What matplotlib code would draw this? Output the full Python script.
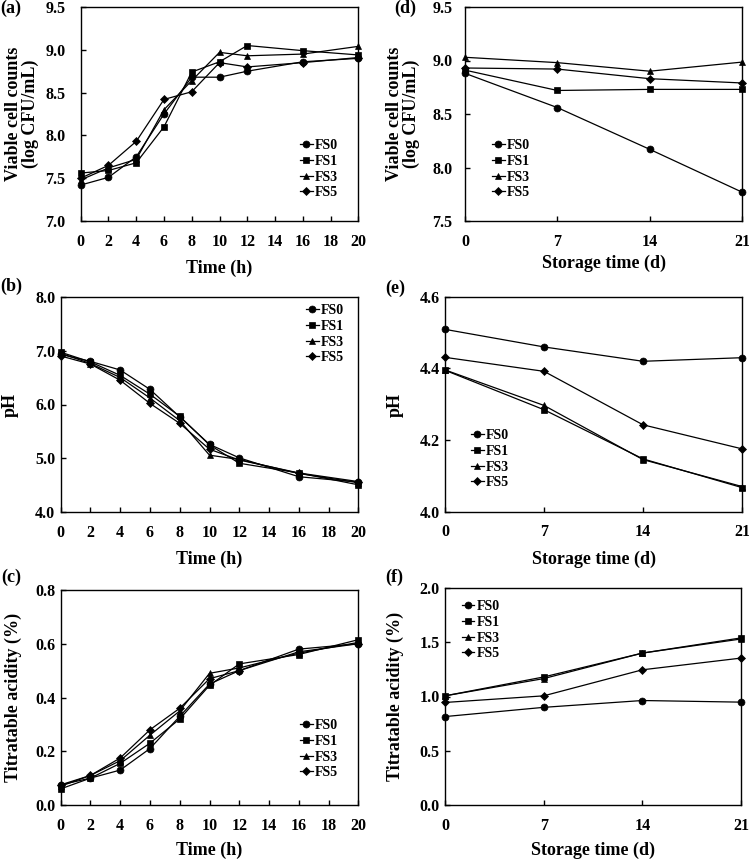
import matplotlib
matplotlib.use("Agg")
import matplotlib.pyplot as plt

plt.rcParams['font.family'] = ['Liberation Serif', 'DejaVu Serif']
plt.rcParams['font.weight'] = 'bold'

series = ['FS0', 'FS1', 'FS3', 'FS5']
markers = {'FS0': 'o', 'FS1': 's', 'FS3': '^', 'FS5': 'D'}
msizes = {'FS0': 5, 'FS1': 5, 'FS3': 5, 'FS5': 4}

# Fermentation time (h)
ferm_time = [0, 2, 4, 6, 8, 10, 12, 16, 20]
# Storage time (d)
stor_time = [0, 7, 14, 21]

# (a) viable cell counts during fermentation
a_FS0 = [7.42, 7.51, 7.75, 8.25, 8.68, 8.68, 8.75, 8.86, 8.90]
a_FS1 = [7.56, 7.59, 7.68, 8.10, 8.74, 8.86, 9.05, 8.99, 8.94]
a_FS3 = [7.48, 7.62, 7.72, 8.30, 8.64, 8.97, 8.93, 8.95, 9.04]
a_FS5 = [7.50, 7.65, 7.93, 8.42, 8.51, 8.85, 8.80, 8.85, 8.91]

# (b) pH during fermentation
b_FS0 = [6.93, 6.80, 6.64, 6.28, 5.77, 5.26, 5.01, 4.66, 4.56]
b_FS1 = [6.97, 6.79, 6.54, 6.19, 5.78, 5.25, 4.91, 4.73, 4.51]
b_FS3 = [6.95, 6.76, 6.50, 6.12, 5.70, 5.06, 4.98, 4.72, 4.55]
b_FS5 = [6.90, 6.75, 6.45, 6.02, 5.65, 5.17, 4.97, 4.73, 4.57]

# (c) titratable acidity during fermentation
c_FS0 = [0.075, 0.100, 0.130, 0.210, 0.330, 0.450, 0.500, 0.580, 0.600]
c_FS1 = [0.060, 0.100, 0.155, 0.230, 0.320, 0.445, 0.525, 0.560, 0.615]
c_FS3 = [0.070, 0.110, 0.165, 0.260, 0.350, 0.490, 0.510, 0.565, 0.605]
c_FS5 = [0.075, 0.110, 0.175, 0.280, 0.360, 0.470, 0.500, 0.570, 0.600]

# (d) viable cell counts during storage
d_FS0 = [8.88, 8.56, 8.17, 7.77]
d_FS1 = [8.91, 8.72, 8.73, 8.73]
d_FS3 = [9.03, 8.98, 8.90, 8.985]
d_FS5 = [8.93, 8.92, 8.83, 8.79]

# (e) pH during storage
e_FS0 = [4.509, 4.460, 4.420, 4.430]
e_FS1 = [4.395, 4.285, 4.148, 4.068]
e_FS3 = [4.396, 4.297, 4.146, 4.071]
e_FS5 = [4.431, 4.392, 4.243, 4.176]

# (f) titratable acidity during storage
f_FS0 = [0.815, 0.900, 0.963, 0.948]
f_FS1 = [1.006, 1.180, 1.400, 1.540]
f_FS3 = [1.006, 1.165, 1.400, 1.530]
f_FS5 = [0.945, 1.006, 1.246, 1.354]

fig = plt.figure(figsize=(7.49, 8.61), dpi=100)

W, H = 749.0, 861.0
def box(l, r, t, b):
    return [l / W, 1 - b / H, (r - l) / W, (b - t) / H]

def figpt(x, y):
    return (x / W, 1 - y / H)

panels = [
    dict(pos=box(80.7, 358.3, 7, 221), x=ferm_time,
         data=[a_FS0, a_FS1, a_FS3, a_FS5], ylim=(7.0, 9.5), yt=[7.0, 7.5, 8.0, 8.5, 9.0, 9.5],
         xt=list(range(0, 21, 2)), xlim=(0, 20), ylabel='Viable cell counts\n(log CFU/mL)',
         xlabel='Time (h)', tag='(a)', leg=(300, 139), tagpos=(0, 0),
         ypad=11, xlab=(219.5, 268.5), ylab=(22, 114)),
    dict(pos=box(465, 742, 7, 221), x=stor_time,
         data=[d_FS0, d_FS1, d_FS3, d_FS5], ylim=(7.5, 9.5), yt=[7.5, 8.0, 8.5, 9.0, 9.5],
         xt=stor_time, xlim=(0, 21), ylabel='Viable cell counts\n(log CFU/mL)',
         xlabel='Storage time (d)', tag='(d)', leg=(492, 139), tagpos=(394, 0),
         ypad=9, xlab=(603.5, 263), ylab=(403, 114)),
    dict(pos=box(60.7, 358.3, 296.7, 512.3), x=ferm_time,
         data=[b_FS0, b_FS1, b_FS3, b_FS5], ylim=(4.0, 8.0), yt=[4.0, 5.0, 6.0, 7.0, 8.0],
         xt=list(range(0, 21, 2)), xlim=(0, 20), ylabel='pH',
         xlabel='Time (h)', tag='(b)', leg=(306, 304), tagpos=(0, 278),
         ypad=4, xlab=(209.5, 559), ylab=(10, 404.5)),
    dict(pos=box(445, 742, 296.7, 512), x=stor_time,
         data=[e_FS0, e_FS1, e_FS3, e_FS5], ylim=(4.0, 4.6), yt=[4.0, 4.2, 4.4, 4.6],
         xt=stor_time, xlim=(0, 21), ylabel='pH',
         xlabel='Storage time (d)', tag='(e)', leg=(471, 429), tagpos=(385, 280),
         ypad=3.6, xlab=(593.5, 559), ylab=(395, 404.5)),
    dict(pos=box(60.7, 358.3, 590, 805), x=ferm_time,
         data=[c_FS0, c_FS1, c_FS3, c_FS5], ylim=(0.0, 0.8), yt=[0.0, 0.2, 0.4, 0.6, 0.8],
         xt=list(range(0, 21, 2)), xlim=(0, 20), ylabel='Titratable acidity (%)',
         xlabel='Time (h)', tag='(c)', leg=(300, 719), tagpos=(1, 569),
         ypad=4, xlab=(209.5, 850), ylab=(13, 697.5)),
    dict(pos=box(445, 741, 588, 805), x=stor_time,
         data=[f_FS0, f_FS1, f_FS3, f_FS5], ylim=(0.0, 2.0), yt=[0.0, 0.5, 1.0, 1.5, 2.0],
         xt=stor_time, xlim=(0, 21), ylabel='Titratable acidity (%)',
         xlabel='Storage time (d)', tag='(f)', leg=(462, 600), tagpos=(385, 569),
         ypad=3.6, xlab=(593, 850), ylab=(395, 696.5)),
]

for p in panels:
    ax = fig.add_axes(p['pos'])
    for name, ys in zip(series, p['data']):
        ax.plot(p['x'], ys, color='black', lw=0.9, marker=markers[name],
                ms=msizes[name], mfc='black', mec='black', mew=0.5, label=name,
                clip_on=False)
    ax.set_xlim(*p['xlim'])
    ax.set_ylim(*p['ylim'])
    ax.set_xticks(p['xt'])
    ax.set_yticks(p['yt'])
    ax.set_yticklabels([f'{v:.1f}' for v in p['yt']])
    ax.tick_params(direction='in', length=3.5, width=1, labelsize=11.5)
    ax.tick_params(axis='x', pad=9)
    ax.tick_params(axis='y', pad=p['ypad'])
    for lab in ax.get_xticklabels() + ax.get_yticklabels():
        lab.set_fontweight('bold')
    for s in ax.spines.values():
        s.set_linewidth(1)
    xx, xy = figpt(*p['xlab'])
    fig.text(xx, xy, p['xlabel'], fontsize=13, fontweight='bold', ha='center', va='center')
    yx, yy = figpt(*p['ylab'])
    fig.text(yx, yy, p['ylabel'], fontsize=13, fontweight='bold', ha='center', va='center',
             rotation=90, linespacing=1.0, multialignment='center')
    ax.legend(loc='upper left', bbox_to_anchor=figpt(*p['leg']),
              bbox_transform=fig.transFigure, frameon=False,
              handlelength=0.9, handletextpad=0.15, labelspacing=0.2,
              borderpad=0, borderaxespad=0,
              prop={'family': 'Liberation Serif', 'weight': 'bold', 'size': 10})
    tx, ty = figpt(*p['tagpos'])
    fig.text(tx, ty, p['tag'], fontsize=13, fontweight='bold', va='top', ha='left')

fig.savefig('out.png', dpi=100)
